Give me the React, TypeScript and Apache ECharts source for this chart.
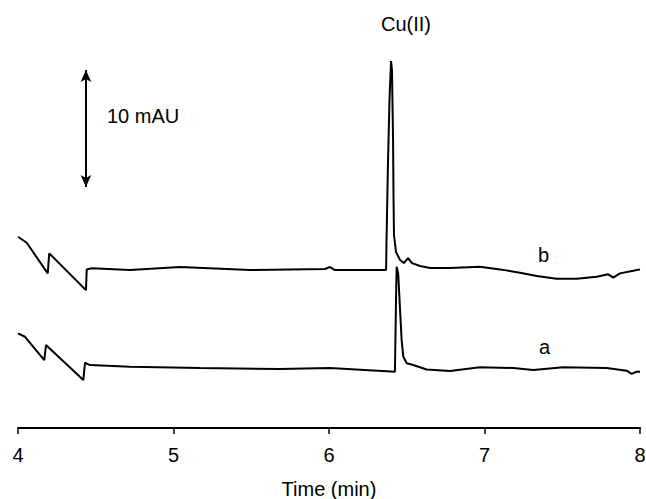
import React, { useEffect, useRef } from "react";
import * as echarts from "echarts";

// Time (min) and absorbance (mAU, relative offset) for trace b (upper)
const timeB = [4.0, 4.056, 4.191, 4.201, 4.437, 4.442, 4.474, 4.72, 5.042, 5.492, 5.974, 6.006, 6.039, 6.367, 6.37, 6.379, 6.389, 6.399, 6.405, 6.412, 6.415, 6.418, 6.431, 6.457, 6.482, 6.508, 6.534, 6.585, 6.65, 6.778, 6.971, 7.1, 7.228, 7.336, 7.464, 7.593, 7.722, 7.796, 7.828, 7.871, 7.957, 8.0];
const valueB = [16.35, 15.84, 13.22, 14.93, 11.79, 13.56, 13.65, 13.5, 13.76, 13.5, 13.59, 13.76, 13.5, 13.5, 16.07, 22.48, 28.03, 31.37, 30.6, 24.62, 19.49, 16.5, 15.04, 14.36, 14.1, 14.53, 14.1, 13.85, 13.68, 13.68, 13.79, 13.56, 13.27, 12.99, 12.76, 12.76, 12.93, 13.14, 12.85, 13.22, 13.44, 13.56];

// Trace a (lower)
const timeA = [4.0, 4.045, 4.169, 4.18, 4.42, 4.431, 4.463, 4.72, 5.17, 5.685, 6.006, 6.424, 6.431, 6.435, 6.445, 6.456, 6.467, 6.478, 6.5, 6.542, 6.628, 6.778, 6.971, 7.185, 7.314, 7.507, 7.786, 7.914, 7.946, 7.978, 8.0];
const valueA = [8.09, 7.8, 5.81, 7.09, 4.1, 5.58, 5.38, 5.24, 5.13, 5.04, 5.13, 4.81, 10.94, 13.79, 13.22, 10.37, 7.52, 6.09, 5.53, 5.38, 5.0, 4.88, 5.2, 5.13, 4.96, 5.19, 5.13, 4.9, 4.62, 4.81, 4.81];

const xTicks = [4, 5, 6, 7, 8];
const scaleBarTime = 4.437;
const scaleBarFrom = 20.6;
const scaleBarTo = 30.6; // 10 mAU

const font = "'Liberation Sans', Arial, sans-serif";
const fs = 20;

export default function App() {
  const ref = useRef<HTMLDivElement>(null);
  useEffect(() => {
    if (!ref.current) return;
    const chart = echarts.init(ref.current, null, { renderer: "svg" });
    const dataB = timeB.map((t, i) => [t, valueB[i]]);
    const dataA = timeA.map((t, i) => [t, valueA[i]]);
    chart.setOption({
      animation: false,
      backgroundColor: "#fff",
      grid: { left: 18, right: 6, top: 42, bottom: 71, containLabel: false, outerBoundsMode: "none" },
      xAxis: {
        type: "value",
        min: xTicks[0],
        max: xTicks[xTicks.length - 1],
        interval: 1,
        name: "Time (min)",
        nameLocation: "middle",
        nameGap: 51,
        nameTextStyle: { color: "#000", fontSize: fs, fontFamily: font },
        axisLine: { lineStyle: { color: "#000", width: 2 } },
        axisTick: { length: 6, lineStyle: { color: "#000", width: 1.5 } },
        axisLabel: { color: "#000", fontSize: fs, fontFamily: font, margin: 17 },
        splitLine: { show: false },
      },
      yAxis: { type: "value", min: 0, max: 33, show: false },
      series: [
        {
          type: "line",
          data: dataB,
          showSymbol: false,
          lineStyle: { color: "#000", width: 2 },
          markLine: {
            silent: true,
            symbol: ["arrow", "arrow"],
            symbolSize: [8, 12],
            label: { show: false },
            lineStyle: { color: "#000", width: 2, type: "solid" },
            data: [[{ coord: [scaleBarTime, scaleBarFrom] }, { coord: [scaleBarTime, scaleBarTo] }]],
          },
        },
        {
          type: "line",
          data: dataA,
          showSymbol: false,
          lineStyle: { color: "#000", width: 2 },
        },
      ],
      graphic: [
        { type: "text", left: 381, top: 14, style: { text: "Cu(II)", fill: "#000", fontSize: fs, fontFamily: font } },
        { type: "text", left: 107, top: 106, style: { text: "10 mAU", fill: "#000", fontSize: fs, fontFamily: font } },
        { type: "text", left: 538, top: 245, style: { text: "b", fill: "#000", fontSize: fs, fontFamily: font } },
        { type: "text", left: 539, top: 337, style: { text: "a", fill: "#000", fontSize: fs, fontFamily: font } },
      ],
    });
    return () => chart.dispose();
  }, []);
  return <div ref={ref} style={{ position: "fixed", left: 0, top: 0, width: 646, height: 499 }} />;
}
